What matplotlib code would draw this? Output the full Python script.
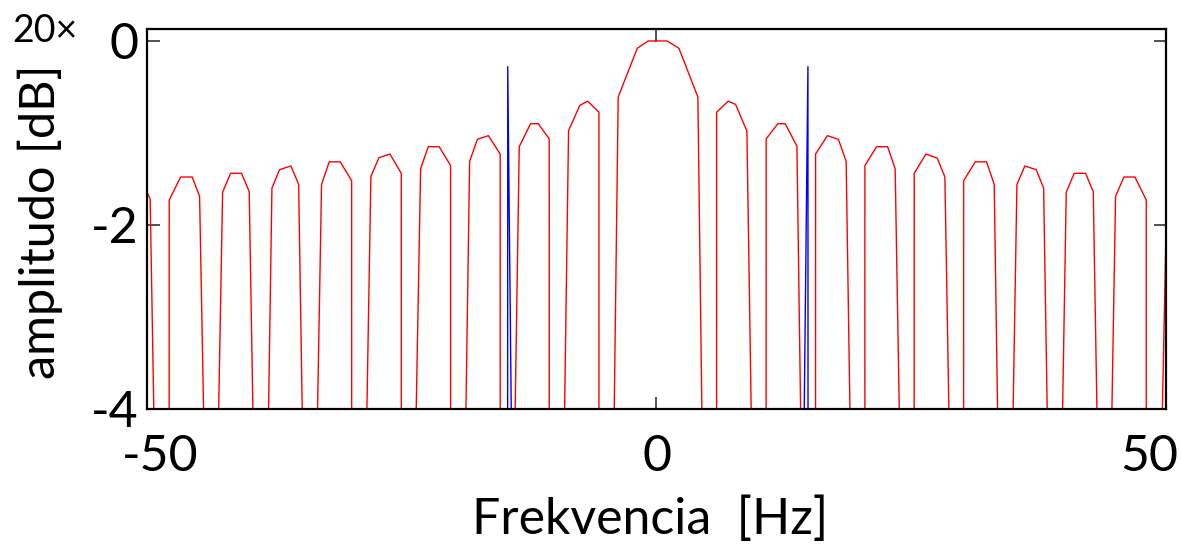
import matplotlib
matplotlib.use("Agg")
import matplotlib.pyplot as plt

plt.rcParams['font.family'] = ['Lato', 'DejaVu Sans']

# spektrum (cervena) - vrcholy odcitane z obrazku, hodnoty v 20x dB
freq = [-50.8, -49.66, -47.82,
        -47.79, -46.67, -45.54, -44.81, -43.67,
        -42.55, -41.77, -40.69, -39.94, -38.77,
        -37.71, -36.96, -35.85, -35.09, -34.03,
        -32.84, -32.09, -31.01, -29.89, -29.87,
        -28.00, -27.21, -26.13, -25.02, -25.00,
        -23.12, -22.37, -21.30, -20.18, -20.16,
        -18.31, -17.55, -16.47, -15.31, -15.30,
        -13.44, -12.33, -11.58, -10.50, -10.48,
        -8.60, -7.49, -6.73, -5.62, -5.60,
        -3.73, -1.86, -0.785, 1.08, 2.23, 4.09, 5.91,
        5.93, 7.07, 7.79, 8.90, 10.77,
        10.79, 11.94, 12.66, 13.81, 15.62,
        15.64, 16.80, 17.88, 18.64, 20.46,
        20.48, 21.63, 22.71, 23.45, 25.30,
        25.32, 26.47, 27.58, 28.33, 30.15,
        30.17, 31.31, 32.42, 33.17, 34.22,
        35.40, 36.18, 37.29, 38.02, 39.11,
        40.24, 41.02, 42.14, 42.89, 43.98,
        45.08, 45.90, 46.98, 48.09, 48.10,
        50.10]
ampl = [-1.45, -1.72, -13.5,
        -1.73, -1.48, -1.48, -1.69, -8.44,
        -1.645, -1.44, -1.44, -1.64, -9.31,
        -1.60, -1.40, -1.36, -1.56, -8.95,
        -1.56, -1.315, -1.315, -1.52, -13.6,
        -1.475, -1.27, -1.23, -1.44, -12.8,
        -1.39, -1.15, -1.15, -1.355, -15.1,
        -1.31, -1.07, -1.03, -1.23, -14.4,
        -1.15, -0.90, -0.90, -1.065, -15.6,
        -0.975, -0.70, -0.655, -0.775, -16.9,
        -0.61, -0.08, 0.0, 0.0, -0.08, -0.61, -16.4,
        -0.775, -0.655, -0.69, -0.98, -14.4,
        -1.065, -0.90, -0.90, -1.145, -15.5,
        -1.23, -1.03, -1.07, -1.31, -14.5,
        -1.355, -1.15, -1.15, -1.39, -13.4,
        -1.44, -1.23, -1.275, -1.48, -13.2,
        -1.52, -1.315, -1.315, -1.56, -9.32,
        -1.56, -1.36, -1.40, -1.60, -9.08,
        -1.645, -1.44, -1.44, -1.64, -8.79,
        -1.69, -1.48, -1.48, -1.73, -12.5,
        -1.70]

# spektralne ciary (modre)
line_f_left = [-14.58, -14.57, -14.18]
line_f_right = [14.48, 14.89, 14.90]
line_a = [-4.5, -0.28, -4.5]

xticks = [-50, 0, 50]
yticks = [-4, -2, 0]

W, H = 1181, 545
fig = plt.figure(figsize=(W / 100, H / 100), dpi=100)
ax = fig.add_axes([146.7 / W, 1 - 408.7 / H, (1165.7 - 146.7) / W, (408.7 - 29) / H])

ax.plot(freq, ampl, color='#ff0000', lw=1.0)
ax.plot(line_f_left, line_a, color='#0000ff', lw=1.0)
ax.plot(line_f_right, line_a, color='#0000ff', lw=1.0)

ax.set_xlim(-50, 50)
ax.set_ylim(-4, 0.13)
ax.set_xticks(xticks)
ax.set_xticklabels([])
ax.set_yticks(yticks)
ax.set_yticklabels([str(v) for v in yticks], fontsize=36)
ax.tick_params(direction='in', length=9, width=1.2, top=True, right=True,
               color='#333333', pad=6)
for s in ax.spines.values():
    s.set_linewidth(1.6)
    s.set_color('black')

# popisy osi x rucne (krajne su posunute dovnutra)
xlab_px = [160, 657, 1149]
for v, px in zip(xticks, xlab_px):
    fig.text(px / W, 1 - 457 / H, str(v), fontsize=36, ha='center', va='center')

fig.text(650 / W, 1 - 520 / H, 'Frekvencia  [Hz]', fontsize=36,
         ha='center', va='center')
fig.text(40 / W, 1 - 222 / H, 'amplitudo [dB]', fontsize=35, rotation=90,
         ha='center', va='center')
fig.text(12 / W, 1 - 31 / H, '20\u00d7', fontsize=27, ha='left', va='center')

fig.savefig('out.png', dpi=100)
